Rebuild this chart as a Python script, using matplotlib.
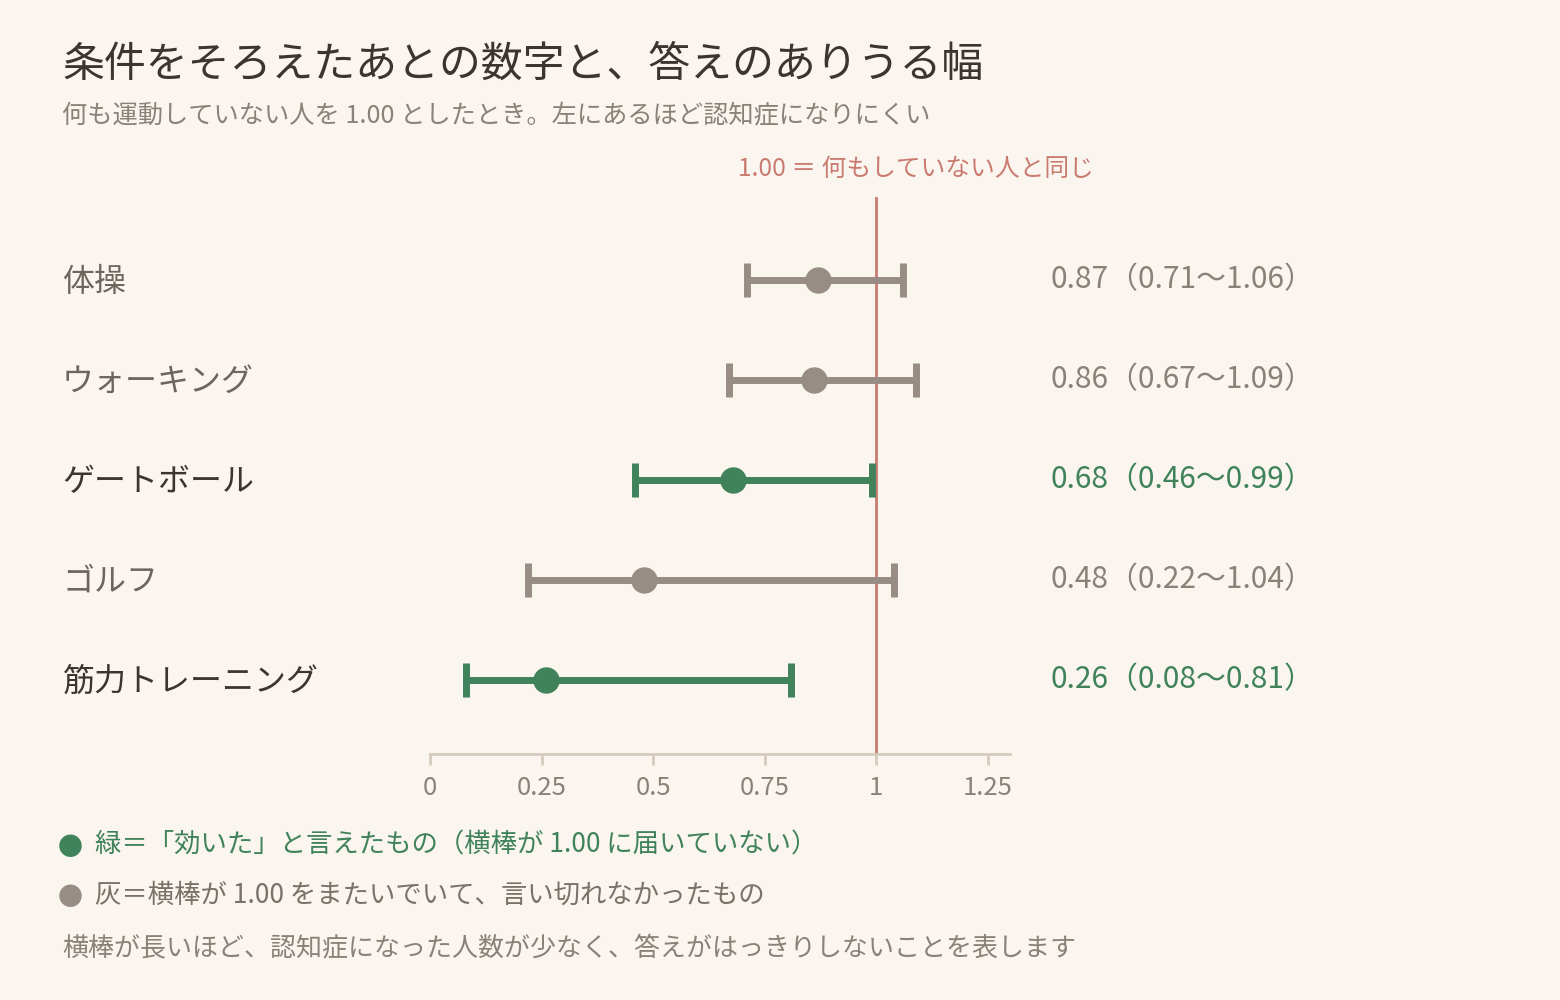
import matplotlib.pyplot as plt

plt.rcParams['font.family'] = ['Noto Sans CJK JP', 'DejaVu Sans']

# データ（上から順）
nomes = ['体操', 'ウォーキング', 'ゲートボール', 'ゴルフ', '筋力トレーニング']
hr = [0.87, 0.86, 0.68, 0.48, 0.26]
ic_inf = [0.71, 0.67, 0.46, 0.22, 0.08]
ic_sup = [1.06, 1.09, 0.99, 1.04, 0.81]
x_ticks = [0, 0.25, 0.5, 0.75, 1, 1.25]
x_tick_labels = ['0', '0.25', '0.5', '0.75', '1', '1.25']

fundo = '#FAF5EF'
verde = '#40825A'
cinza = '#978D84'
vermelho = '#C97B70'
texto_escuro = '#3A3530'
texto_cinza = '#8A8178'

fig = plt.figure(figsize=(15.6, 10), dpi=100, facecolor=fundo)
ax = fig.add_axes([430/1560, 1 - 754/1000, 580/1560, 557/1000])
ax.set_facecolor(fundo)

ax.axvline(1, color=vermelho, lw=2, zorder=1)

for i in range(len(nomes)):
    efetivo = ic_sup[i] < 1
    cor = verde if efetivo else cinza
    ax.errorbar(hr[i], i, xerr=[[hr[i] - ic_inf[i]], [ic_sup[i] - hr[i]]],
                fmt='o', color=cor, ecolor=cor, elinewidth=5, capsize=12,
                capthick=5, markersize=18, zorder=3)
    # nome da categoria
    fig.text(62/1560, 1 - (282 + 100*i)/1000, nomes[i], fontsize=23,
             color=texto_escuro if efetivo else '#6E665E', va='center', ha='left')
    # valor
    fig.text(1050/1560, 1 - (280 + 100*i)/1000,
             f'{hr[i]:.2f}（{ic_inf[i]:.2f}〜{ic_sup[i]:.2f}）',
             fontsize=21.5, color=verde if efetivo else texto_cinza, va='center', ha='left')

ax.set_xlim(0, 1.30)
ax.set_ylim(4.74, -0.83)
ax.set_yticks([])
ax.set_xticks(x_ticks)
ax.set_xticklabels(x_tick_labels)
for lado in ['top', 'right', 'left']:
    ax.spines[lado].set_visible(False)
ax.spines['bottom'].set_color('#D6CCBE')
ax.spines['bottom'].set_linewidth(2)
ax.tick_params(axis='x', colors='#D6CCBE', length=8, width=2, labelsize=18.5,
               labelcolor=texto_cinza, pad=7)

# títulos
fig.text(62/1560, 1 - 65/1000, '条件をそろえたあとの数字と、答えのありうる幅',
         fontsize=30.2, color=texto_escuro, va='center', ha='left')
fig.text(62/1560, 1 - 116/1000, '何も運動していない人を 1.00 としたとき。左にあるほど認知症になりにくい',
         fontsize=18.2, color=texto_cinza, va='center', ha='left')
fig.text(738/1560, 1 - 169/1000, '1.00 ＝ 何もしていない人と同じ',
         fontsize=17.8, color=vermelho, va='center', ha='left')

# legenda
fig.text(70/1560, 1 - 848/1000, '●', fontsize=18, color=verde, va='center', ha='center')
fig.text(95/1560, 1 - 845/1000, '緑＝「効いた」と言えたもの（横棒が 1.00 に届いていない）',
         fontsize=19, color=verde, va='center', ha='left')
fig.text(70/1560, 1 - 898/1000, '●', fontsize=18, color=cinza, va='center', ha='center')
fig.text(95/1560, 1 - 895/1000, '灰＝横棒が 1.00 をまたいでいて、言い切れなかったもの',
         fontsize=19, color='#7A7168', va='center', ha='left')
fig.text(62/1560, 1 - 949/1000, '横棒が長いほど、認知症になった人数が少なく、答えがはっきりしないことを表します',
         fontsize=18.7, color=texto_cinza, va='center', ha='left')

fig.savefig('out.png', dpi=100, facecolor=fundo)
